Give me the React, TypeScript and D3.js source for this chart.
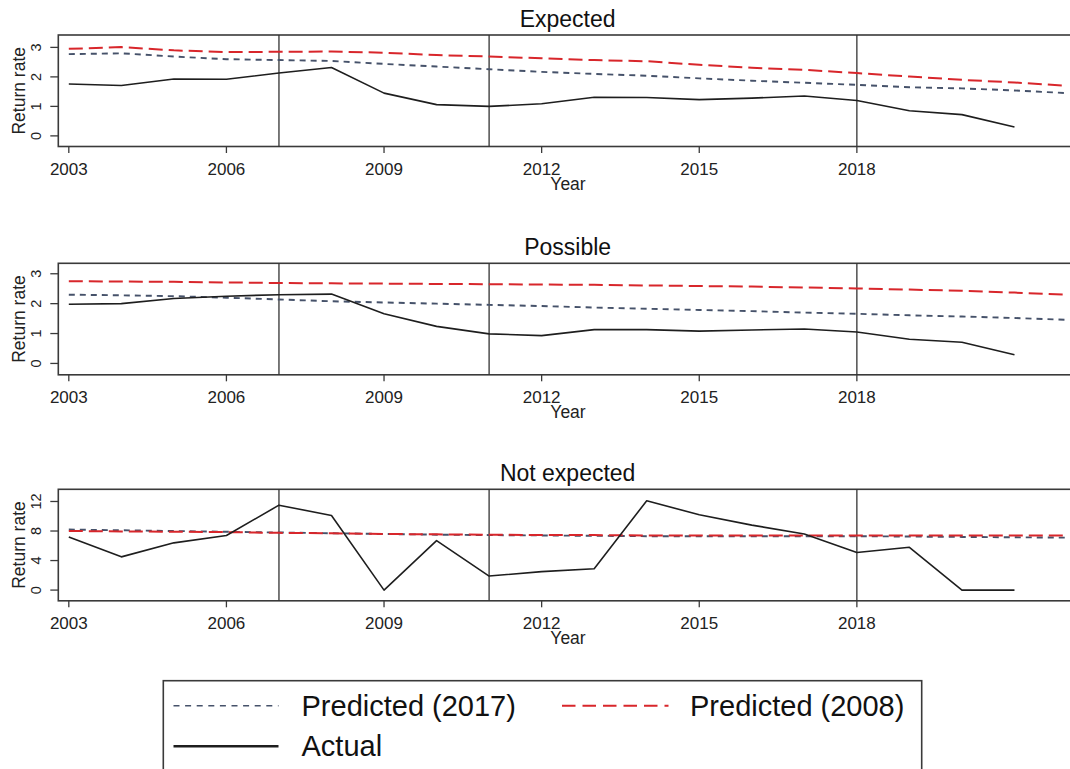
import React from "react";
import * as d3 from "d3";

const years = [2003, 2004, 2005, 2006, 2007, 2008, 2009, 2010, 2011, 2012, 2013, 2014, 2015, 2016, 2017, 2018, 2019, 2020, 2021, 2022];
const xTicks = [2003, 2006, 2009, 2012, 2015, 2018];
const markerYears = [2007, 2011, 2018];

const actualExpected = [1.76, 1.71, 1.93, 1.92, 2.13, 2.32, 1.45, 1.06, 1.0, 1.09, 1.31, 1.3, 1.23, 1.28, 1.35, 1.2, 0.85, 0.72, 0.3];
const pred2008Expected = [2.95, 3.01, 2.9, 2.84, 2.85, 2.86, 2.82, 2.74, 2.69, 2.63, 2.57, 2.53, 2.41, 2.31, 2.24, 2.13, 2.01, 1.9, 1.81, 1.7];
const pred2017Expected = [2.77, 2.8, 2.69, 2.6, 2.57, 2.54, 2.44, 2.35, 2.26, 2.17, 2.1, 2.04, 1.95, 1.87, 1.8, 1.73, 1.65, 1.61, 1.54, 1.45];

const actualPossible = [1.98, 2.0, 2.17, 2.25, 2.3, 2.32, 1.66, 1.24, 0.99, 0.93, 1.13, 1.13, 1.08, 1.12, 1.15, 1.05, 0.81, 0.71, 0.29];
const pred2008Possible = [2.75, 2.74, 2.73, 2.71, 2.69, 2.68, 2.67, 2.66, 2.65, 2.64, 2.63, 2.61, 2.59, 2.57, 2.54, 2.51, 2.47, 2.43, 2.37, 2.3];
const pred2017Possible = [2.3, 2.28, 2.25, 2.2, 2.14, 2.08, 2.04, 2.0, 1.96, 1.92, 1.87, 1.83, 1.79, 1.75, 1.7, 1.66, 1.61, 1.57, 1.52, 1.46];

const actualNotExpected = [7.2, 4.5, 6.4, 7.4, 11.5, 10.1, 0, 6.7, 1.9, 2.5, 2.9, 12.1, 10.2, 8.8, 7.6, 5.1, 5.8, 0, 0];
const pred2008NotExpected = [8.0, 7.95, 7.9, 7.85, 7.75, 7.7, 7.6, 7.55, 7.5, 7.45, 7.45, 7.4, 7.4, 7.4, 7.4, 7.4, 7.4, 7.4, 7.4, 7.4];
const pred2017NotExpected = [8.2, 8.1, 8.0, 7.9, 7.8, 7.7, 7.6, 7.5, 7.45, 7.4, 7.35, 7.3, 7.3, 7.3, 7.3, 7.3, 7.25, 7.2, 7.15, 7.1];

const panelTitles = ["Expected", "Possible", "Not expected"];
const yTicksSmall = [0, 1, 2, 3];
const yTicksLarge = [0, 4, 8, 12];
const legendLabels = ["Predicted (2017)", "Predicted (2008)", "Actual"];

const FONT = "'Liberation Sans', Arial, Helvetica, sans-serif";
const RED = "#d8262b";
const GRAY = "#46526a";
const BLACK = "#1e1e1e";
const FRAME = "#3a3a3a";

const panels = [
  { title: panelTitles[0], actual: actualExpected, p2008: pred2008Expected, p2017: pred2017Expected, ticks: yTicksSmall, domain: [-0.36, 3.42], top: 35 },
  { title: panelTitles[1], actual: actualPossible, p2008: pred2008Possible, p2017: pred2017Possible, ticks: yTicksSmall, domain: [-0.38, 3.35], top: 263.3 },
  { title: panelTitles[2], actual: actualNotExpected, p2008: pred2008NotExpected, p2017: pred2017NotExpected, ticks: yTicksLarge, domain: [-1.45, 13.65], top: 489.3 },
];

const PLOT_LEFT = 58.3;
const PLOT_RIGHT = 1077;
const PANEL_H = 111.5;

const x = d3.scaleLinear().domain([2002.8, 2022.19]).range([PLOT_LEFT, PLOT_RIGHT]);

function Panel({ p }: { p: (typeof panels)[number] }) {
  const top = p.top;
  const bottom = top + PANEL_H;
  const y = d3.scaleLinear().domain(p.domain).range([bottom, top]);
  const line = d3
    .line<number>()
    .x((_, i) => x(years[i]))
    .y((d) => y(d));
  const midY = (top + bottom) / 2;
  const cx = (PLOT_LEFT + PLOT_RIGHT) / 2;
  return (
    <g>
      <text x={cx} y={top - 8} textAnchor="middle" fontSize={23} fill="#111" fontFamily={FONT}>
        {p.title}
      </text>
      <rect x={PLOT_LEFT} y={top} width={PLOT_RIGHT - PLOT_LEFT} height={PANEL_H} fill="none" stroke={FRAME} strokeWidth={1.6} />
      {markerYears.map((yr) => (
        <line key={yr} x1={x(yr)} x2={x(yr)} y1={top} y2={bottom} stroke="#333" strokeWidth={1.3} />
      ))}
      <path d={line(p.p2017) || ""} fill="none" stroke={GRAY} strokeWidth={1.9} strokeDasharray="6 5" />
      <path d={line(p.p2008) || ""} fill="none" stroke={RED} strokeWidth={2} strokeDasharray="14 6" />
      <path d={line(p.actual) || ""} fill="none" stroke={BLACK} strokeWidth={1.6} strokeLinejoin="round" />
      {p.ticks.map((t) => (
        <g key={t}>
          <line x1={PLOT_LEFT - 8} x2={PLOT_LEFT} y1={y(t)} y2={y(t)} stroke={FRAME} strokeWidth={1.3} />
          <text
            x={41.5}
            y={y(t)}
            transform={`rotate(-90, 41.5, ${y(t)})`}
            textAnchor="middle"
            fontSize={14.5}
            fill="#222"
            fontFamily={FONT}
          >
            {t}
          </text>
        </g>
      ))}
      <text
        x={25}
        y={midY}
        transform={`rotate(-90, 25, ${midY})`}
        textAnchor="middle"
        fontSize={17.5}
        fill="#222"
        fontFamily={FONT}
      >
        Return rate
      </text>
      {xTicks.map((t) => (
        <g key={t}>
          <line x1={x(t)} x2={x(t)} y1={bottom} y2={bottom + 6.5} stroke={FRAME} strokeWidth={1.3} />
          <text x={x(t)} y={bottom + 28.3} textAnchor="middle" fontSize={17} fill="#222" fontFamily={FONT}>
            {t}
          </text>
        </g>
      ))}
      <text x={568} y={bottom + 43.3} textAnchor="middle" fontSize={17.5} fill="#222" fontFamily={FONT}>
        Year
      </text>
    </g>
  );
}

function Legend() {
  const lx = 163.3;
  const ly = 680.7;
  return (
    <g>
      <rect x={lx} y={ly} width={921.7 - lx} height={120} fill="white" stroke={FRAME} strokeWidth={1.6} />
      <line x1={173.5} x2={278.5} y1={705.7} y2={705.7} stroke={GRAY} strokeWidth={1.6} strokeDasharray="6 5.6" />
      <text x={301.5} y={715.7} fontSize={29} fill="#111" fontFamily={FONT}>
        {legendLabels[0]}
      </text>
      <line x1={562} x2={668.5} y1={705.7} y2={705.7} stroke={RED} strokeWidth={2} strokeDasharray="13.5 7" />
      <text x={690} y={715.7} fontSize={29} fill="#111" fontFamily={FONT}>
        {legendLabels[1]}
      </text>
      <line x1={173.5} x2={278.5} y1={746.3} y2={746.3} stroke={BLACK} strokeWidth={2.4} />
      <text x={301.5} y={756.3} fontSize={29} fill="#111" fontFamily={FONT}>
        {legendLabels[2]}
      </text>
    </g>
  );
}

export default function App() {
  return (
    <div style={{ position: "absolute", left: 0, top: 0, width: 1070, height: 769, background: "white", overflow: "hidden" }}>
      <svg width={1070} height={769} viewBox="0 0 1070 769" style={{ display: "block" }}>
        <rect x={0} y={0} width={1070} height={769} fill="white" />
        {panels.map((p) => (
          <Panel key={p.title} p={p} />
        ))}
        <Legend />
      </svg>
    </div>
  );
}
